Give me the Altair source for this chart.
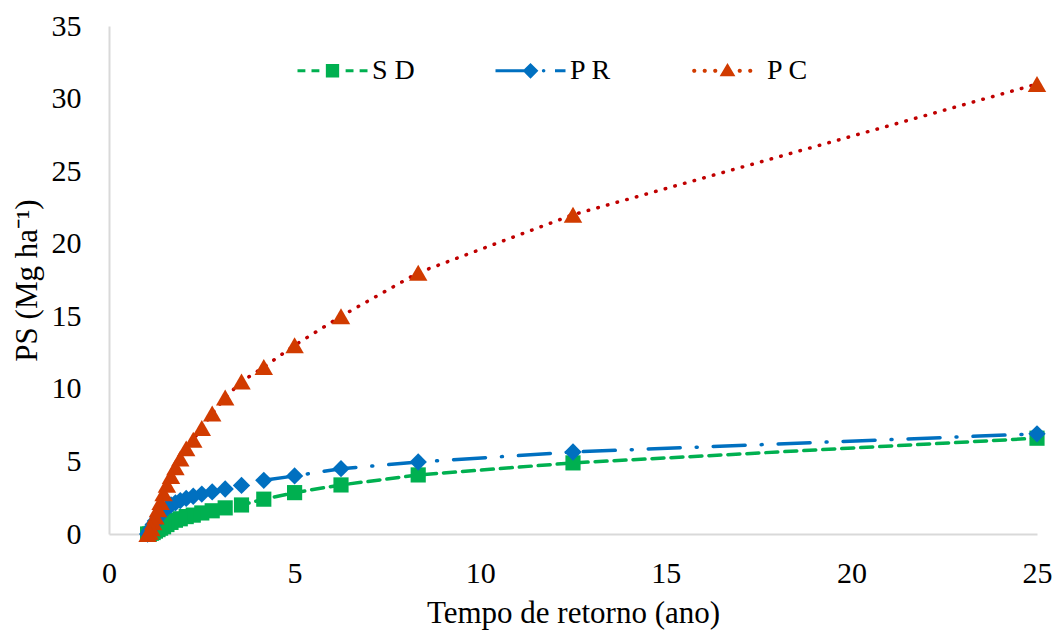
import altair as alt
import pandas as pd

# Return period (years)
T = [25.0, 12.5, 8.33, 6.25, 5.0, 4.17, 3.57, 3.13, 2.78, 2.5, 2.27, 2.08,
     1.92, 1.79, 1.67, 1.56, 1.47, 1.39, 1.32, 1.25, 1.19, 1.14, 1.09, 1.04]

SD = [6.6, 4.9, 4.07, 3.38, 2.85, 2.4, 2.0, 1.8, 1.6, 1.45, 1.3, 1.2,
      1.05, 0.95, 0.8, 0.65, 0.5, 0.4, 0.3, 0.2, 0.1, 0.05, 0.0, 0.0]
PR = [6.9, 5.65, 4.96, 4.5, 4.0, 3.7, 3.35, 3.1, 2.9, 2.75, 2.6, 2.45,
      2.3, 2.15, 2.0, 1.8, 1.6, 1.4, 1.15, 0.9, 0.65, 0.4, 0.2, 0.0]
PC = [31.0, 22.0, 18.0, 15.0, 13.0, 11.5, 10.5, 9.4, 8.3, 7.3, 6.5, 5.9,
      5.2, 4.6, 4.0, 3.4, 2.8, 2.2, 1.7, 1.2, 0.8, 0.4, 0.15, 0.0]

series_names = ["SD", "PR", "PC"]
line_colors = ["#00B050", "#0070C0", "#C00000"]
marker_colors = ["#00B050", "#0070C0", "#D13B00"]
marker_shapes = ["square", "diamond", "triangle-up"]
marker_sizes = [230, 300, 340]
dashes = [[12, 7], [32, 16, 1, 16], [0.5, 9.5]]

# legend glyphs: line sample + marker, drawn as SVG paths
legend_paths = [
    "M-2,-0.09H-1.55V0.09H-2Z M-1.2,-0.09H-0.75V0.09H-1.2Z "
    "M-0.38,-0.38H0.38V0.38H-0.38Z M0.75,-0.09H1.2V0.09H0.75Z M1.55,-0.09H2V0.09H1.55Z",
    "M-2,-0.09H0V0.09H-2Z M0,-0.45L0.45,0L0,0.45L-0.45,0Z "
    "M0.65,0A0.1,0.1 0 1,0 0.85,0A0.1,0.1 0 1,0 0.65,0Z M1.4,-0.09H2V0.09H1.4Z",
    "M-2.02,0A0.12,0.12 0 1,0 -1.78,0A0.12,0.12 0 1,0 -2.02,0Z "
    "M-1.42,0A0.12,0.12 0 1,0 -1.18,0A0.12,0.12 0 1,0 -1.42,0Z "
    "M-0.82,0A0.12,0.12 0 1,0 -0.58,0A0.12,0.12 0 1,0 -0.82,0Z "
    "M0,-0.45L0.45,0.32L-0.45,0.32Z "
    "M0.58,0A0.12,0.12 0 1,0 0.82,0A0.12,0.12 0 1,0 0.58,0Z "
    "M1.18,0A0.12,0.12 0 1,0 1.42,0A0.12,0.12 0 1,0 1.18,0Z",
]

rows = []
for name, vals in zip(series_names, [SD, PR, PC]):
    for t, v in zip(T, vals):
        rows.append({"T": t, "PS": v, "serie": name})
df = pd.DataFrame(rows)

FONT = "Liberation Serif"

x_enc = alt.X("T:Q", scale=alt.Scale(domain=[0, 25], nice=False),
              axis=alt.Axis(values=[0, 5, 10, 15, 20, 25], title="Tempo de retorno (ano)",
                            labelFlush=False, labelPadding=24, titleY=79,
                            titleBaseline="middle"))
y_enc = alt.Y("PS:Q", scale=alt.Scale(domain=[0, 35], nice=False),
              axis=alt.Axis(values=[0, 5, 10, 15, 20, 25, 30, 35], title="PS (Mg ha⁻¹)",
                            labelPadding=28, titleX=-82, titleY=254, titleAngle=270,
                            titleAlign="center", titleBaseline="middle"))

layers = []
for i, name in enumerate(series_names):
    sub = alt.Chart(df).transform_filter(alt.datum.serie == name)
    line = sub.mark_line(color=line_colors[i], strokeWidth=3.5, strokeDash=dashes[i],
                         strokeCap="round").encode(x=x_enc, y=y_enc, order="T:Q")
    pts = sub.mark_point(shape=marker_shapes[i], filled=True, opacity=1,
                         color=marker_colors[i], size=marker_sizes[i],
                         strokeWidth=0).encode(x=x_enc, y=y_enc)
    layers += [line, pts]

leg = alt.Legend(title=None, orient="none", legendX=206, legendY=27, direction="horizontal",
                 symbolSize=1225, symbolStrokeWidth=0, labelFont=FONT, labelFontSize=28,
                 labelColor="black", labelOffset=22, columnPadding=80, padding=0,
                 labelExpr="substring(datum.label,0,1) + ' ' + substring(datum.label,1)")

legend_layer = alt.Chart(df).transform_filter("false").mark_point(filled=True, opacity=1).encode(
    x=x_enc, y=y_enc,
    color=alt.Color("serie:N", scale=alt.Scale(domain=series_names, range=marker_colors), legend=leg),
    shape=alt.Shape("serie:N", scale=alt.Scale(domain=series_names, range=legend_paths), legend=leg),
)

chart = alt.layer(*layers, legend_layer).properties(
    width=928, height=508,
    autosize=alt.AutoSizeParams(type="none"),
    padding={"left": 109, "top": 26, "right": 20, "bottom": 100},
).configure_view(stroke=None).configure_axis(
    domainColor="#D9D9D9", domainWidth=2, ticks=False, grid=False,
    labelFont=FONT, labelFontSize=30, labelColor="black",
    titleFont=FONT, titleFontSize=31, titleFontWeight="normal", titleColor="black",
)

chart.save("out.html", embed_options={"renderer": "svg", "actions": False})
